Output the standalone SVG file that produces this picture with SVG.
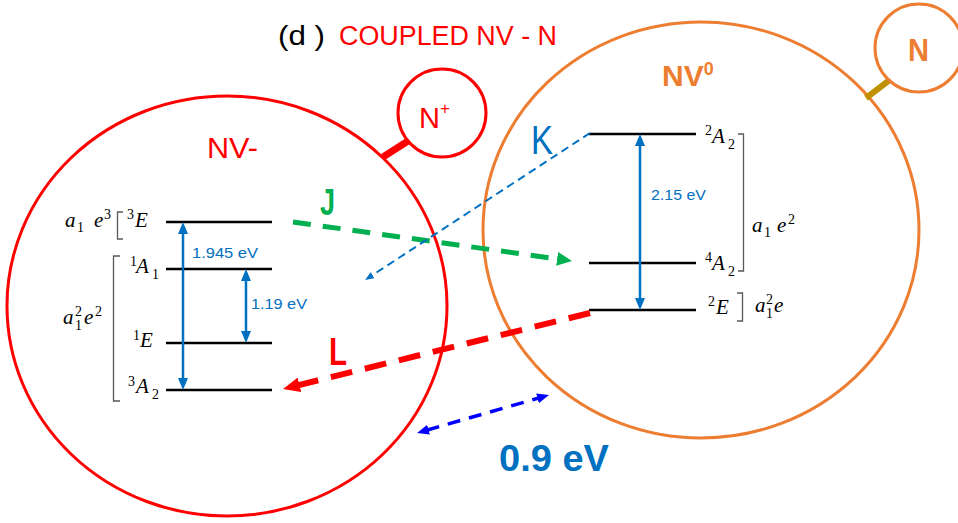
<svg xmlns="http://www.w3.org/2000/svg" width="958" height="523" viewBox="0 0 958 523">
<style>
.lvl{stroke:#000;stroke-width:2.5}
.m{font-family:"Liberation Serif","DejaVu Serif",serif;font-style:italic;font-size:21px;fill:#000}
.s{font-family:"Liberation Serif","DejaVu Serif",serif;font-style:normal;font-size:14px;fill:#000}
.ev{font-family:"Liberation Sans",Arial,sans-serif;font-size:14.5px;fill:#0070C0}
.brk{fill:none;stroke:#595959;stroke-width:1.3}
.sans{font-family:"Liberation Sans",Arial,sans-serif}
</style>
<defs>
<marker id="ab" markerUnits="userSpaceOnUse" viewBox="0 0 12 10" markerWidth="12" markerHeight="10" refX="2" refY="5" orient="auto-start-reverse"><path d="M0,0 L12,5 L0,10 z" fill="#0070C0"/></marker>
<marker id="ag" markerUnits="userSpaceOnUse" viewBox="0 0 15 14" markerWidth="15" markerHeight="14" refX="3" refY="7" orient="auto"><path d="M0,0 L15,7 L0,14 z" fill="#00B050"/></marker>
<marker id="ar" markerUnits="userSpaceOnUse" viewBox="0 0 17 15" markerWidth="17" markerHeight="15" refX="3" refY="7.5" orient="auto"><path d="M0,0 L17,7.5 L0,15 z" fill="#FF0000"/></marker>
<marker id="ak" markerUnits="userSpaceOnUse" viewBox="0 0 9 7" markerWidth="9" markerHeight="7" refX="2" refY="3.5" orient="auto"><path d="M0,0 L9,3.5 L0,7 z" fill="#0070C0"/></marker>
<marker id="a9" markerUnits="userSpaceOnUse" viewBox="0 0 12 10" markerWidth="12" markerHeight="10" refX="2" refY="5" orient="auto-start-reverse"><path d="M0,0 L12,5 L0,10 z" fill="#0000FF"/></marker>
</defs>
<rect width="958" height="523" fill="#fff"/>

<g id="title">
<text class="sans" x="278" y="45" font-size="28" fill="#000" textLength="47" lengthAdjust="spacingAndGlyphs">(d )</text>
<text class="sans" x="339" y="45" font-size="27" fill="#FF0000" textLength="218" lengthAdjust="spacingAndGlyphs">COUPLED NV - N</text>
</g>

<g id="nv-minus">
<ellipse cx="227" cy="306" rx="220" ry="210" fill="none" stroke="#FF0000" stroke-width="3"/>
<text class="sans" x="207" y="158" font-size="30" fill="#FF0000" textLength="51" lengthAdjust="spacingAndGlyphs">NV-</text>
</g>

<g id="n-plus">
<line x1="383" y1="157" x2="408" y2="141" stroke="#FF0000" stroke-width="7"/>
<circle cx="442" cy="113" r="44" fill="#fff" stroke="#FF0000" stroke-width="3"/>
<text class="sans" x="419" y="128" font-size="29" fill="#FF0000">N<tspan font-size="17" dy="-14">+</tspan></text>
</g>

<g id="nv-zero">
<ellipse cx="701" cy="230" rx="218" ry="208" fill="none" stroke="#ED7D31" stroke-width="3"/>
<text class="sans" x="662" y="86" font-size="30" font-weight="bold" fill="#ED7D31">NV<tspan font-size="18" dy="-11">0</tspan></text>
</g>

<g id="n">
<line x1="866" y1="98" x2="891" y2="79" stroke="#BF9000" stroke-width="6"/>
<circle cx="919" cy="48" r="44" fill="#fff" stroke="#ED7D31" stroke-width="3"/>
<text class="sans" x="908" y="61" font-size="32" font-weight="bold" fill="#ED7D31" textLength="21" lengthAdjust="spacingAndGlyphs">N</text>
</g>

<g id="nv-minus-levels">
<line class="lvl" x1="166" y1="222" x2="272" y2="222"/>
<line class="lvl" x1="166" y1="269" x2="272" y2="269"/>
<line class="lvl" x1="166" y1="343" x2="272" y2="343"/>
<line class="lvl" x1="166" y1="390" x2="272" y2="390"/>
<path class="brk" d="M123,212 H117.5 V239 H123"/>
<path class="brk" d="M120,256 H113.5 V401 H120"/>
<text class="m" x="65" y="227">a</text><text class="s" x="77" y="232">1</text>
<text class="m" x="94" y="227">e</text><text class="s" x="104" y="219">3</text>
<text class="s" x="127" y="219">3</text><text class="m" x="135" y="227">E</text>
<text class="s" x="130" y="266">1</text><text class="m" x="136" y="273">A</text><text class="s" x="152" y="279">1</text>
<text class="m" x="63" y="324">a</text><text class="s" x="75" y="316">2</text><text class="s" x="75" y="330">1</text>
<text class="m" x="84" y="324">e</text><text class="s" x="95" y="316">2</text>
<text class="s" x="133" y="340">1</text><text class="m" x="140" y="347">E</text>
<text class="s" x="128" y="386">3</text><text class="m" x="136" y="393">A</text><text class="s" x="152" y="399">2</text>
<line x1="183" y1="232" x2="183" y2="380" stroke="#0070C0" stroke-width="2.5" marker-start="url(#ab)" marker-end="url(#ab)"/>
<line x1="246" y1="279" x2="246" y2="333" stroke="#0070C0" stroke-width="2.5" marker-start="url(#ab)" marker-end="url(#ab)"/>
<text class="ev" x="192" y="258" textLength="66" lengthAdjust="spacingAndGlyphs">1.945 eV</text>
<text class="ev" x="251" y="309" textLength="56" lengthAdjust="spacingAndGlyphs">1.19 eV</text>
</g>

<g id="nv-zero-levels">
<line class="lvl" x1="589" y1="134" x2="696" y2="134"/>
<line class="lvl" x1="589" y1="263" x2="696" y2="263"/>
<line class="lvl" x1="589" y1="310" x2="696" y2="310"/>
<path class="brk" d="M738,134 H743.5 V271 H738"/>
<path class="brk" d="M737,293 H742.5 V321 H737"/>
<text class="s" x="705" y="135">2</text><text class="m" x="712" y="143">A</text><text class="s" x="728" y="149">2</text>
<text class="s" x="705" y="262">4</text><text class="m" x="712" y="270">A</text><text class="s" x="728" y="276">2</text>
<text class="s" x="708" y="306">2</text><text class="m" x="716" y="314">E</text>
<text class="m" x="752" y="232">a</text><text class="s" x="764" y="237">1</text>
<text class="m" x="777" y="232">e</text><text class="s" x="788" y="224">2</text>
<text class="m" x="755" y="312">a</text><text class="s" x="766" y="304">2</text><text class="s" x="766" y="318">1</text>
<text class="m" x="774" y="312">e</text>
<line x1="640" y1="144" x2="640" y2="300" stroke="#0070C0" stroke-width="2.5" marker-start="url(#ab)" marker-end="url(#ab)"/>
<text class="ev" x="651" y="200" textLength="55" lengthAdjust="spacingAndGlyphs">2.15 eV</text>
</g>

<g id="connectors">
<line x1="293" y1="222" x2="560.1" y2="259.3" stroke="#00B050" stroke-width="5" stroke-dasharray="18 12" marker-end="url(#ag)"/>
<line x1="590" y1="313" x2="296.6" y2="385.6" stroke="#FF0000" stroke-width="6" stroke-dasharray="22 13" marker-end="url(#ar)"/>
<line x1="590" y1="133" x2="370.9" y2="276.2" stroke="#0070C0" stroke-width="2" stroke-dasharray="8 5" marker-end="url(#ak)"/>
<line x1="426.6" y1="430.2" x2="539.4" y2="397.8" stroke="#0000FF" stroke-width="3.5" stroke-dasharray="13 9" marker-start="url(#a9)" marker-end="url(#a9)"/>
<text class="sans" x="320" y="215" font-size="36" font-weight="bold" fill="#00B050" textLength="15" lengthAdjust="spacingAndGlyphs">J</text>
<text class="sans" x="329" y="365" font-size="38" font-weight="bold" fill="#FF0000" textLength="18" lengthAdjust="spacingAndGlyphs">L</text>
<text class="sans" x="531" y="154" font-size="40" fill="#0070C0" textLength="22" lengthAdjust="spacingAndGlyphs">K</text>
<text class="sans" x="499" y="471" font-size="36" font-weight="bold" fill="#0070C0" textLength="110" lengthAdjust="spacingAndGlyphs">0.9 eV</text>
</g>
</svg>
